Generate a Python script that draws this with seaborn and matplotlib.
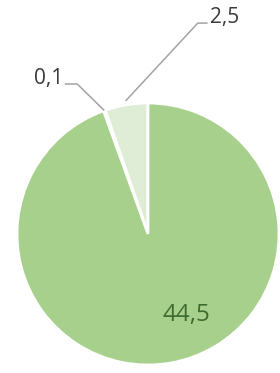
import numpy as np
import matplotlib
matplotlib.use("Agg")
import matplotlib.pyplot as plt
import seaborn as sns

# slice values, in drawing order (counter-clockwise from 12 o'clock)
values = [2.5, 0.1, 44.5]
labels = ["2,5", "0,1", "44,5"]
colors = ["#dfedd6", "#f4f9f0", "#a8d08d"]

sns.set_theme(style="white")
plt.rcParams['font.family'] = ['Open Sans', 'DejaVu Sans']

fig = plt.figure(figsize=(2.8, 3.73), dpi=100)
ax = fig.add_axes([0, 0, 1, 1])

wedges, _ = ax.pie(values, colors=colors, startangle=90, counterclock=True,
                   radius=1, wedgeprops=dict(edgecolor="white", linewidth=2))

# angles of each wedge middle
mids = [np.deg2rad((w.theta1 + w.theta2) / 2) for w in wedges]

# big slice label inside
ax.text(0.29, -0.62, labels[2], fontsize=17.5, color="#3e6b2f",
        ha="center", va="center")

line_kw = dict(color="#a3a3a3", lw=1.1, solid_capstyle="butt")

# 0,1 label with leader
a = mids[1]
p0 = (np.cos(a), np.sin(a))
ax.plot([p0[0], -0.54, -0.635], [p0[1], 1.145, 1.145], **line_kw)
ax.text(-0.65, 1.145, labels[1], fontsize=15, color="#3a3a3a",
        ha="right", va="baseline")

# 2,5 label with leader
a = mids[0]
p0 = (np.cos(a) * 1.03, np.sin(a) * 1.03)
ax.plot([p0[0], 0.38, 0.455], [p0[1], 1.61, 1.61], **line_kw)
ax.text(0.47, 1.61, labels[0], fontsize=15, color="#3a3a3a",
        ha="left", va="baseline")

r = 131.0
ax.set_xlim(-148 / r, 132 / r)
ax.set_ylim(-(373 - 234) / r, 234 / r)
ax.set_aspect("equal")
ax.axis("off")

fig.savefig("out.png", dpi=100, facecolor="white")
